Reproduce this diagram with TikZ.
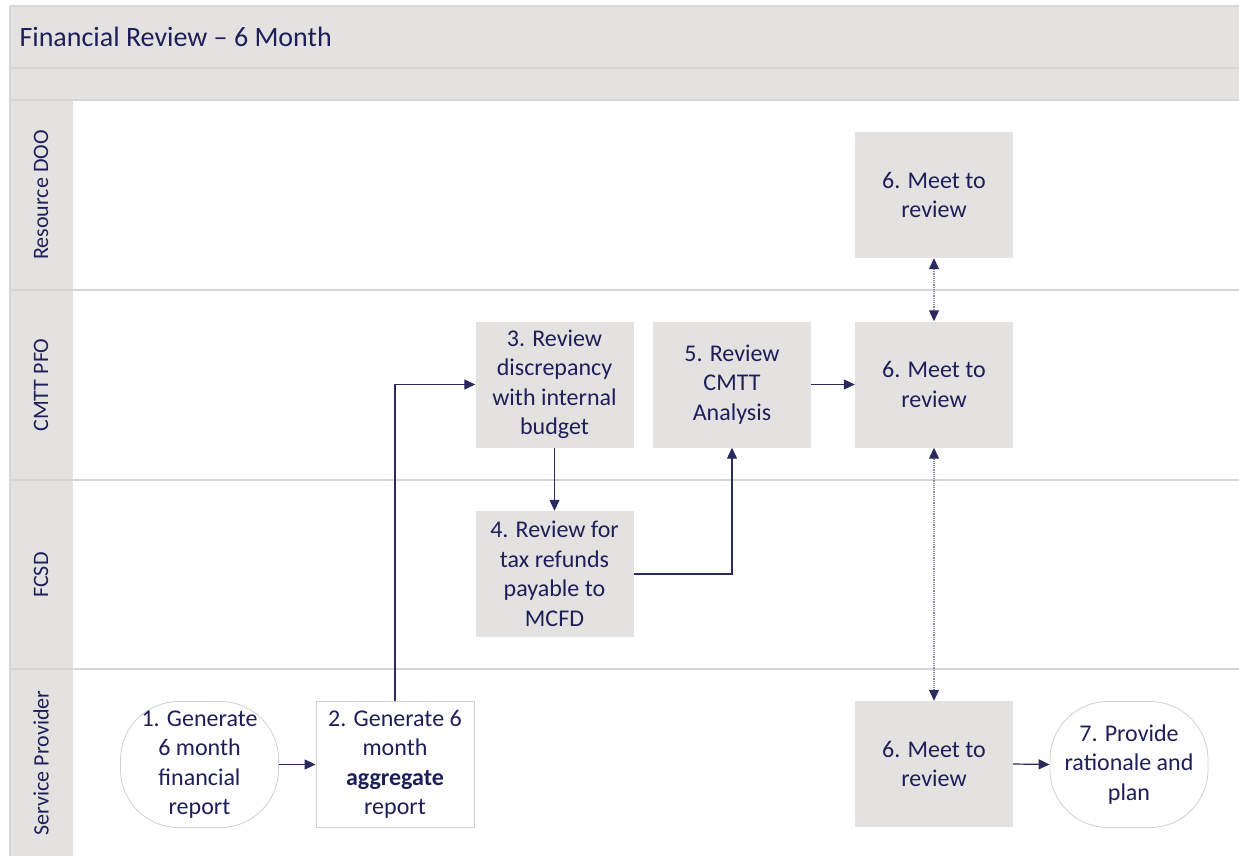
\documentclass[tikz,border=0pt]{standalone}
\usepackage{fontspec}
\setmainfont{Carlito}
\usetikzlibrary{arrows.meta}
\definecolor{lanegray}{HTML}{E4E2E1}
\definecolor{rulegray}{HTML}{D6D6D6}
\definecolor{boxedge}{HTML}{D0D0D0}
\definecolor{ink}{HTML}{1E1E5A}
\definecolor{wire}{HTML}{2A2A5E}
\definecolor{dotwire}{HTML}{8A8AAE}
\tikzset{
  x=1pt, y=-1pt,
  task/.style={fill=lanegray, draw=none, minimum width=158pt, minimum height=126pt,
    inner sep=2pt, align=center, text=ink, font=\fontsize{24}{29.5}\selectfont},
  plain/.style={task, fill=white, draw=boxedge, line width=0.8pt},
  terminal/.style={task, fill=white, draw=boxedge, line width=0.8pt, rounded corners=58pt},
  lanelabel/.style={rotate=90, text=ink, font=\fontsize{22}{26}\selectfont},
  flow/.style={draw=wire, line width=1.2pt, -{Triangle[length=11pt,width=10pt]}},
  meet/.style={draw=dotwire, line width=1.2pt, densely dotted,
    {Triangle[length=11pt,width=10pt,color=wire]}-{Triangle[length=11pt,width=10pt,color=wire]}},
}
\begin{document}
\begin{tikzpicture}
\useasboundingbox (0,0) rectangle (1239,856);
\fill[white] (0,0) rectangle (1239,856);

% header bands and lane label column
\fill[lanegray] (10,6) rectangle (1239,100);
\fill[lanegray] (10,100) rectangle (73,856);
\draw[rulegray, line width=1.5pt] (10,6) -- (1239,6);
\draw[rulegray, line width=1.5pt] (10,6) -- (10,856);
\draw[rulegray, line width=2pt] (10,68) -- (1239,68);
\draw[rulegray, line width=2pt] (10,100) -- (1239,100);
\node[anchor=west, text=ink, font=\fontsize{28}{33}\selectfont] (title) at (16,37) {Financial Review – 6 Month};

% lane dividers
\foreach \yy in {290,480,669}
  \draw[rulegray, line width=2pt] (10,\yy) -- (1239,\yy);

% lane names
\node[lanelabel] (laneA) at (41,195) {Resource DOO};
\node[lanelabel] (laneB) at (41,385) {CMTT PFO};
\node[lanelabel] (laneC) at (41,575) {FCSD};
\node[lanelabel] (laneD) at (41,763) {Service Provider};

% process steps
\node[terminal] (s1) at (199.5,764.5) {1. Generate\\6 month\\financial\\report};
\node[plain] (s2) at (395,764.5) {2. Generate 6\\month\\\textbf{aggregate}\\report};
\node[task] (s3) at (554.5,384.5) {3. Review\\discrepancy\\with internal\\budget};
\node[task] (s4) at (554.5,574) {4. Review for\\tax refunds\\payable to\\MCFD};
\node[task] (s5) at (732,384.5) {5. Review\\CMTT\\Analysis};
\node[task] (s6a) at (934,195) {6. Meet to\\review};
\node[task] (s6b) at (934,384.5) {6. Meet to\\review};
\node[task] (s6c) at (934,764) {6. Meet to\\review};
\node[terminal] (s7) at (1129,764.5) {7. Provide\\rationale and\\plan};

% connectors
\draw[flow] (s1.east) -- (s2.west);
\draw[flow] (s2.north) |- (s3.west);
\draw[flow] (s3.south) -- (s4.north);
\draw[flow] (s4.east) -| (s5.south);
\draw[flow] (s5.east) -- (s6b.west);
\draw[meet] (s6a.south) -- (s6b.north);
\draw[meet] (s6b.south) -- (s6c.north);
\draw[flow] (s6c.east) -- (s7.west);
\end{tikzpicture}
\end{document}
